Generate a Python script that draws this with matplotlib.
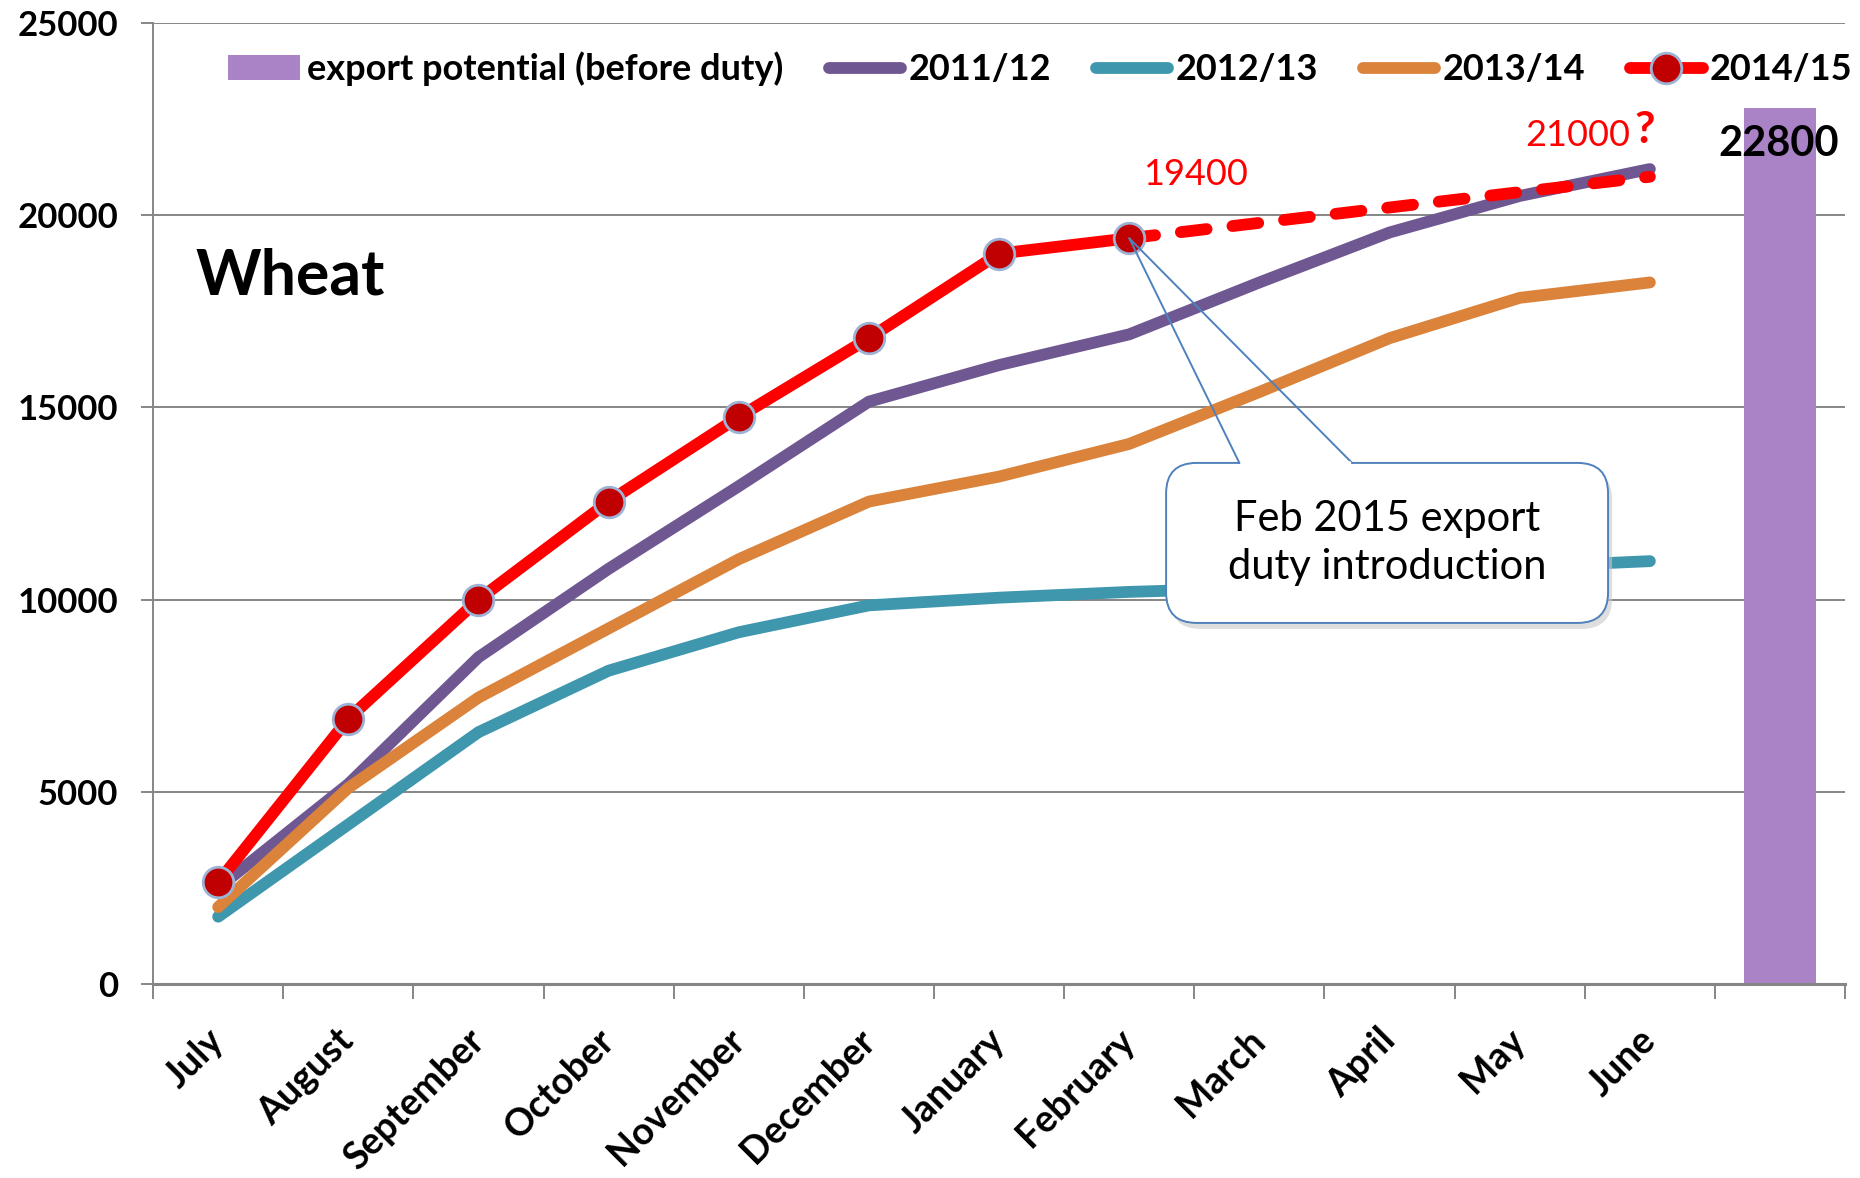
import matplotlib
matplotlib.use("Agg")
import matplotlib.pyplot as plt
import matplotlib.transforms as mtransforms
from matplotlib.patches import FancyBboxPatch
from matplotlib.ticker import FixedLocator, MultipleLocator

plt.rcParams['font.family'] = ['Lato', 'DejaVu Sans']

# data (thousand tonnes, cumulative exports)
months = ['July', 'August', 'September', 'October', 'November', 'December',
          'January', 'February', 'March', 'April', 'May', 'June']
exp_2011 = [2500, 5200, 8500, 10800, 12950, 15150, 16100, 16900, 18250, 19550, 20500, 21200]
exp_2012 = [1750, 4150, 6550, 8150, 9150, 9850, 10050, 10200, 10300, 10500, 10850, 11000]
exp_2013 = [2000, 5100, 7450, 9250, 11050, 12550, 13200, 14050, 15400, 16800, 17850, 18250]
exp_2014 = [2650, 6900, 10000, 12550, 14750, 16800, 19000, 19400]
forecast_2014 = [19400, 19800, 20200, 20600, 21000]
potential = 22800

x = list(range(len(months)))
x_2014 = x[:len(exp_2014)]
x_fc = x[len(exp_2014) - 1:]
x_bar = len(months)

fig = plt.figure(figsize=(18.6, 11.78), dpi=100)
ax = fig.add_axes([0.0823, 0.1647, 0.9097, 0.8158])

LW = 8.5
bar = ax.bar(x_bar, potential, width=0.55, color='#A983C6', zorder=2,
             label='export potential (before duty)')
l1, = ax.plot(x, exp_2011, color='#6F5791', lw=LW, solid_capstyle='round', zorder=3, label='2011/12')
l2, = ax.plot(x, exp_2012, color='#3F97AE', lw=LW, solid_capstyle='round', zorder=3, label='2012/13')
l3, = ax.plot(x, exp_2013, color='#DB833A', lw=LW, solid_capstyle='round', zorder=3, label='2013/14')
l4, = ax.plot(x_2014, exp_2014, color='#FF0000', lw=LW, solid_capstyle='round', zorder=5,
              marker='o', markersize=22, markerfacecolor='#C00000',
              markeredgecolor='#9DB3D6', markeredgewidth=2, label='2014/15')
ax.plot(x_fc, forecast_2014, color='#FF0000', lw=LW, zorder=4,
        linestyle=(0, (2.2, 2.2)), dash_capstyle='round')

ax.set_xlim(-0.5, len(months) + 0.5)
ax.set_ylim(0, 25000)

# axes styling
for s in ['top', 'right']:
    ax.spines[s].set_visible(False)
ax.spines['left'].set_color('#868686')
ax.spines['left'].set_linewidth(1.4)
ax.spines['bottom'].set_color('#868686')
ax.spines['bottom'].set_linewidth(2.2)
ax.yaxis.set_major_locator(MultipleLocator(5000))
ax.grid(axis='y', color='#868686', lw=1.4, zorder=1)
ax.set_axisbelow(True)
ax.tick_params(axis='y', length=9, width=1.4, color='#868686', pad=16, labelsize=25)
for lab in ax.get_yticklabels():
    lab.set_fontweight('bold')

ax.xaxis.set_major_locator(FixedLocator([i - 0.5 for i in range(len(months) + 2)]))
ax.xaxis.set_minor_locator(FixedLocator(x))
ax.tick_params(axis='x', which='major', length=11, width=1.4, color='#868686', labelbottom=False)
ax.tick_params(axis='x', which='minor', length=0, pad=28)
ax.set_xticklabels(months, minor=True, rotation=45, ha='right', fontsize=27, fontweight='bold')
shift = mtransforms.ScaledTranslation(12 / 100, 0, fig.dpi_scale_trans)
for lab in ax.get_xticklabels(minor=True):
    lab.set_transform(lab.get_transform() + shift)

# texts
ax.text(0.025, 0.717, 'Wheat', transform=ax.transAxes, fontsize=45,
        fontweight='bold', va='baseline')
ax.annotate(str(exp_2014[-1]), xy=(x_2014[-1], exp_2014[-1]), xytext=(48, 46),
            textcoords='offset points', ha='center', va='center',
            fontsize=26, color='#FF0000')
ax.annotate(str(forecast_2014[-1]), xy=(x_fc[-1], forecast_2014[-1]), xytext=(-52, 30),
            textcoords='offset points', ha='center', va='center',
            fontsize=26, color='#FF0000')
ax.annotate('?', xy=(x_fc[-1], forecast_2014[-1]), xytext=(-4, 34),
            textcoords='offset points', ha='center', va='center',
            fontsize=32, fontweight='bold', color='#FF0000')
ax.annotate(str(potential), xy=(x_bar, potential), xytext=(-1, -26),
            textcoords='offset points', ha='center', va='center',
            fontsize=30, fontweight='bold', color='black', zorder=6)

# callout box with tail pointing to February
bx, by, bw, bh = 0.5987, 0.3757, 0.2612, 0.1665
asp = 1692 / 961
shadow = mtransforms.ScaledTranslation(4 / 100, -6 / 100, fig.dpi_scale_trans)
ax.add_patch(FancyBboxPatch((bx, by), bw, bh, boxstyle='round,pad=0,rounding_size=0.018',
                            mutation_aspect=asp, transform=ax.transAxes + shadow,
                            fc='#c8c8c8', ec='none', alpha=0.6, zorder=6))
ax.add_patch(FancyBboxPatch((bx, by), bw, bh, boxstyle='round,pad=0,rounding_size=0.018',
                            mutation_aspect=asp, transform=ax.transAxes,
                            fc='white', ec='#4F81BD', lw=1.4, zorder=7))
ax.text(bx + bw / 2, by + bh / 2, 'Feb 2015 export\nduty introduction', transform=ax.transAxes,
        fontsize=30, ha='center', va='center', linespacing=1.3, zorder=8)
for base_x in (0.642, 0.7086):
    ax.annotate('', xy=(x_2014[-1], exp_2014[-1]), xytext=(base_x, by + bh),
                textcoords='axes fraction', zorder=8,
                arrowprops=dict(arrowstyle='-', color='#4F81BD', lw=1.4,
                                shrinkA=0, shrinkB=0))
ax.annotate('', xy=(0.6435, by + bh), xycoords='axes fraction',
            xytext=(0.7071, by + bh), textcoords='axes fraction', zorder=8,
            arrowprops=dict(arrowstyle='-', color='white', lw=2.6, shrinkA=0, shrinkB=0))

ax.legend([bar, l1, l2, l3, l4],
          ['export potential (before duty)', '2011/12', '2012/13', '2013/14', '2014/15'],
          loc='center left', bbox_to_anchor=(0.1226, 0.9414),
          bbox_transform=fig.transFigure, ncol=5, frameon=False,
          prop={'weight': 'bold', 'size': 26}, borderpad=0, borderaxespad=0,
          handlelength=2.0, handletextpad=0.2, columnspacing=1.25)

plt.savefig('out.png', dpi=100)
plt.close()
